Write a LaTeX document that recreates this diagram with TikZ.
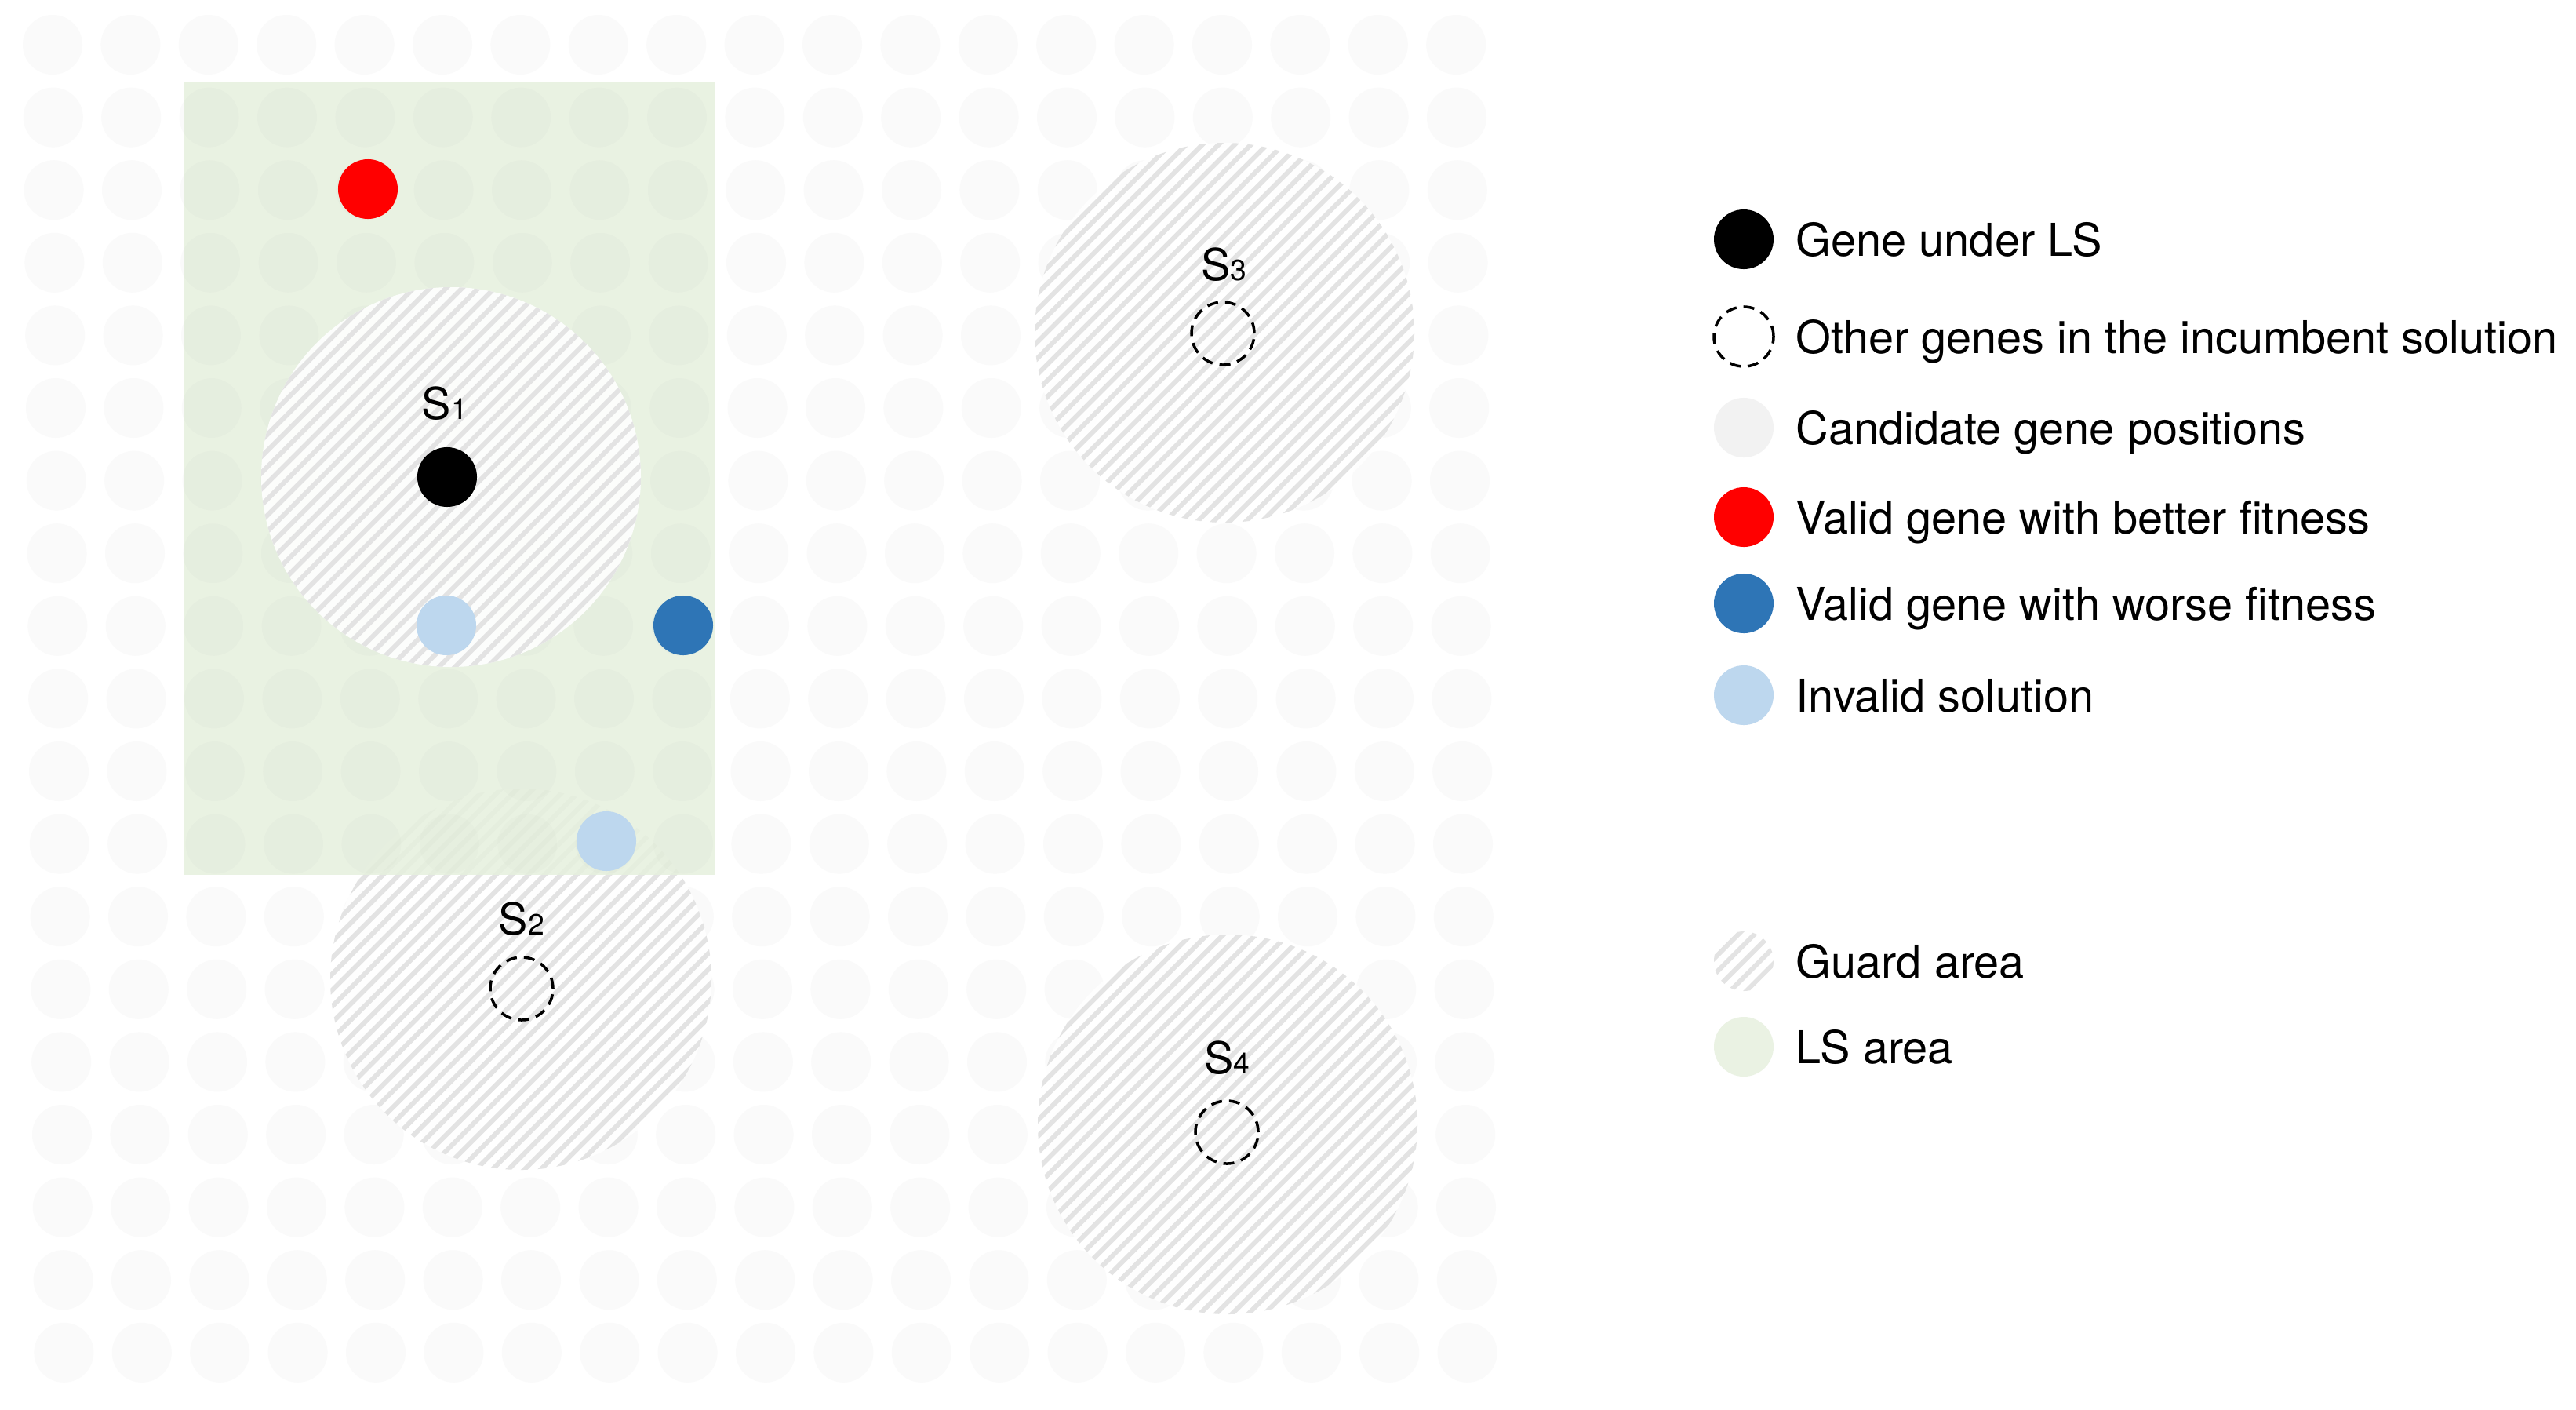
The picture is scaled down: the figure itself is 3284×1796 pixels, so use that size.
\documentclass[tikz,border=0pt]{standalone}
\usepackage{fontspec}
\setmainfont{TeX Gyre Heros}
\definecolor{gridc}{HTML}{FAFAFA}
\definecolor{candc}{HTML}{F2F2F2}
\definecolor{lsgreen}{HTML}{E6F0DE}
\definecolor{lsgreenleg}{HTML}{EAF2E3}
\definecolor{stripec}{HTML}{E3E3E3}
\definecolor{redg}{HTML}{FF0000}
\definecolor{darkb}{HTML}{2E75B6}
\definecolor{lightb}{HTML}{BDD7EE}
\tikzset{
  gene/.style={circle, minimum size=0.76cm, inner sep=0pt, draw=none},
  othergene/.style={circle, minimum size=0.80cm, inner sep=0pt, draw=black, line width=0.035cm, dash pattern=on 0.14cm off 0.09cm},
  stripe/.style={stripec, line width=0.06cm},
  slabel/.style={inner sep=0pt, anchor=base, text=black},
  legtext/.style={inner sep=0pt, anchor=base west, font=\fontsize{16.4}{19}\selectfont, text=black}
}
\newcommand\guardarea[3]{%
  \fill[white, opacity=0.9] (#1,#2) circle (#3);
  \begin{scope}
    \clip (#1,#2) circle (#3);
    \foreach \k in {-18,...,18} {
      \draw[stripe] ({#1+10.3*\k-180},{#2+10.3*\k+180}) -- ({#1+10.3*\k+180},{#2+10.3*\k-180});
    }
  \end{scope}
}
\newcommand\slab[1]{{\fontsize{15.9}{18}\selectfont S}{\fontsize{10.6}{12}\selectfont #1}}
\begin{document}
\begin{tikzpicture}[x=0.01cm, y=-0.01cm]
\useasboundingbox (0,0) rectangle (3284,1796);
\fill[white] (0,0) rectangle (3284,1796);
% candidate grid
\foreach \i in {0,...,18} {
  \foreach \j in {0,...,18} {
    \pgfmathsetmacro\px{67+99.4*\i+0.8*\j}
    \pgfmathsetmacro\py{57+92.6*\j}
    \fill[gridc] (\px,\py) circle (38);
  }
}
% guard areas below LS area
\guardarea{664}{1248}{243}
\guardarea{1561}{424}{242}
\guardarea{1565}{1433}{242}
% LS area
\fill[lsgreen, opacity=0.85] (234,104) rectangle (912,1115);
\begin{scope}
  \clip (234,104) rectangle (912,1115);
  \foreach \i in {1,...,9} {
    \foreach \j in {1,...,11} {
      \pgfmathsetmacro\px{67+99.4*\i+0.8*\j}
      \pgfmathsetmacro\py{57+92.6*\j}
      \fill[black, opacity=0.013] (\px,\py) circle (38);
    }
  }
\end{scope}
% guard area S1
\guardarea{575}{608}{242}
% genes
\node[gene, fill=black] (lsg) at (570,608) {};
\node[gene, fill=redg] (better) at (469,241) {};
\node[gene, fill=lightb] (inv1) at (569,797) {};
\node[gene, fill=darkb] (worse) at (871,797) {};
\node[gene, fill=lightb] (inv2) at (773,1072) {};
\node[othergene] (g2) at (665,1260) {};
\node[othergene] (g3) at (1559,425) {};
\node[othergene] (g4) at (1564,1443) {};
% labels
\node[slabel] (s1) at (567,534) {\slab{1}};
\node[slabel] (s2) at (665,1191) {\slab{2}};
\node[slabel] (s3) at (1560,357) {\slab{3}};
\node[slabel] (s4) at (1564,1368) {\slab{4}};
% legend
\node[gene, fill=black] (lg1) at (2223,305) {};
\node[othergene, minimum size=0.76cm] (lg2) at (2223,429) {};
\node[gene, fill=candc] (lg3) at (2223,545) {};
\node[gene, fill=redg] (lg4) at (2223,659) {};
\node[gene, fill=darkb] (lg5) at (2223,769) {};
\node[gene, fill=lightb] (lg6) at (2223,886) {};
\guardarea{2223}{1225}{38}
\node[gene, fill=lsgreenleg] (lg8) at (2223,1334) {};
\node[legtext] (t1) at (2289,326) {Gene under LS};
\node[legtext] (t2) at (2289,450) {Other genes in the incumbent solution};
\node[legtext] (t3) at (2289,566) {Candidate gene positions};
\node[legtext] (t4) at (2289,680) {Valid gene with better fitness};
\node[legtext] (t5) at (2289,790) {Valid gene with worse fitness};
\node[legtext] (t6) at (2289,907) {Invalid solution};
\node[legtext] (t7) at (2289,1246) {Guard area};
\node[legtext] (t8) at (2289,1355) {LS area};
\end{tikzpicture}
\end{document}
